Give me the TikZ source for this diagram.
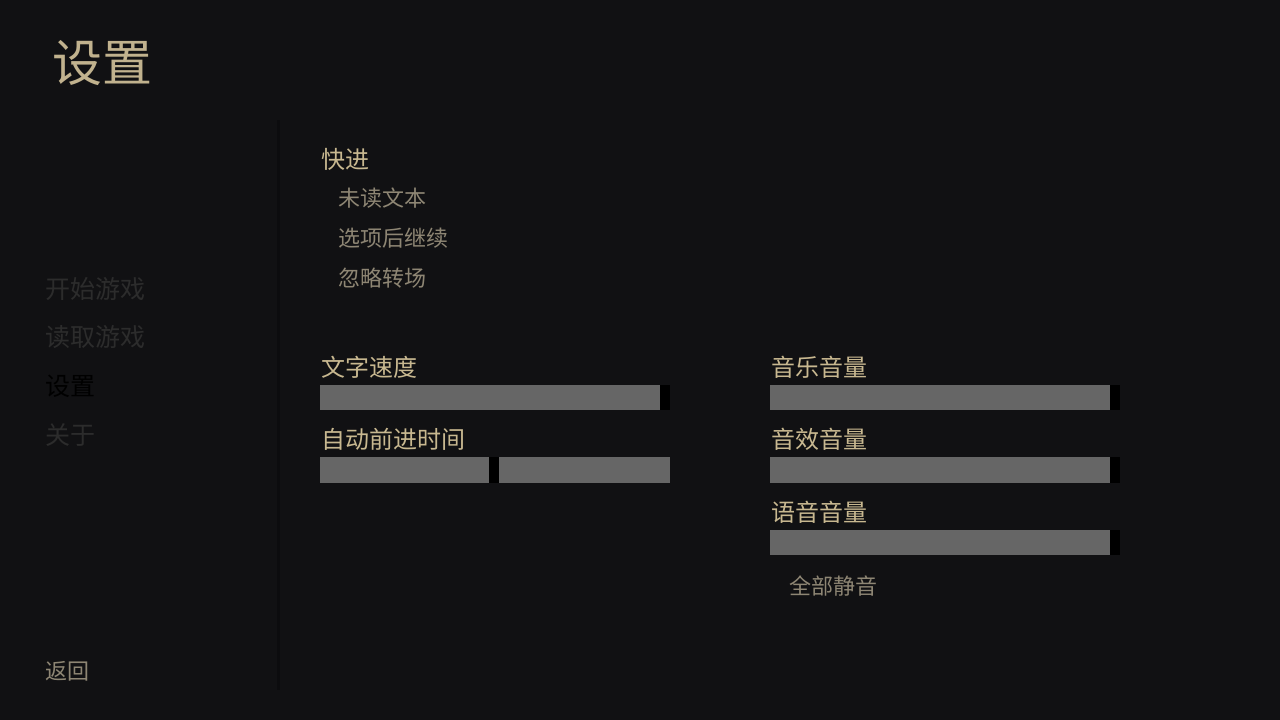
\documentclass[tikz,border=0pt]{standalone}
\usepackage{fontspec}
\newfontfamily\cjk{Noto Sans CJK SC}
\definecolor{bgdark}{HTML}{111113}
\definecolor{rulecol}{HTML}{0C0C0E}
\definecolor{gold}{HTML}{C8B890}
\definecolor{optgray}{HTML}{8E8674}
\definecolor{dimgray}{HTML}{2C2C2C}
\definecolor{bargray}{HTML}{666666}
\tikzset{
  label/.style={anchor=west, inner sep=0pt, text=gold, font=\cjk\fontsize{24}{24}\selectfont},
  option/.style={anchor=west, inner sep=0pt, text=optgray, font=\cjk\fontsize{22}{22}\selectfont},
  menu/.style={anchor=west, inner sep=0pt, text=dimgray, font=\cjk\fontsize{25}{25}\selectfont},
  bar/.style={fill=bargray},
  thumb/.style={fill=black}
}
\begin{document}
\begin{tikzpicture}[x=1pt, y=-1pt]
% Background
\fill[bgdark] (0,0) rectangle (1280,720);
\useasboundingbox (0,0) rectangle (1280,720);

% Title
\node[anchor=west, inner sep=0pt, text=gold!90!gray, font=\cjk\fontsize{50}{50}\selectfont] (title) at (52,63) {设置};

% Navigation
\node[menu] (start) at (45,289) {开始游戏};
\node[menu] (load) at (45,337) {读取游戏};
\node[menu, text=black] (prefs) at (45,386) {设置};
\node[menu] (about) at (45,435) {关于};
\node[option] (back) at (45,671) {返回};

% Divider
\fill[rulecol] (277,120) rectangle (280,690);

% Skip
\node[label] (skip) at (321,159) {快进};
\node[option] (unseen) at (338,198) {未读文本};
\node[option] (after) at (338,238) {选项后继续};
\node[option] (trans) at (338,278) {忽略转场};

% Left sliders
\node[label] (tspeed) at (321,367) {文字速度};
\fill[bar] (320,385) rectangle (660,410);
\fill[thumb] (660,385) rectangle (670,410);
\node[label] (afm) at (321,439) {自动前进时间};
\fill[bar] (320,457) rectangle (489,483);
\fill[thumb] (489,457) rectangle (499,483);
\fill[bar] (499,457) rectangle (670,483);

% Right sliders
\node[label] (music) at (771,367) {音乐音量};
\fill[bar] (770,385) rectangle (1110,410);
\fill[thumb] (1110,385) rectangle (1120,410);
\node[label] (sound) at (771,439) {音效音量};
\fill[bar] (770,457) rectangle (1110,483);
\fill[thumb] (1110,457) rectangle (1120,483);
\node[label] (voice) at (771,512) {语音音量};
\fill[bar] (770,530) rectangle (1110,555);
\fill[thumb] (1110,530) rectangle (1120,555);
\node[option] (mute) at (789,586) {全部静音};
\end{tikzpicture}
\end{document}
